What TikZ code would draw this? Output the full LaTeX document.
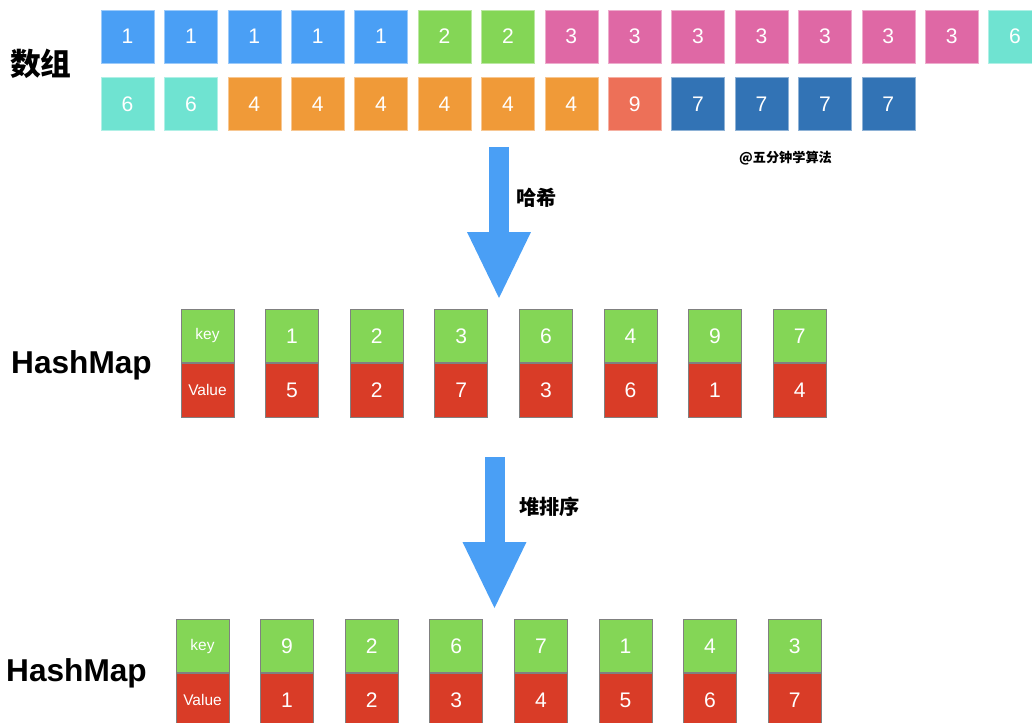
\documentclass[tikz,border=0pt]{standalone}
\usepackage{fontspec}
\setmainfont{Liberation Sans}
\newfontfamily\cjk{Noto Sans CJK SC}
\usetikzlibrary{positioning, arrows.meta}

\definecolor{cblue}{HTML}{4A9FF5}
\definecolor{cgreen}{HTML}{84D656}
\definecolor{cpink}{HTML}{DF68A5}
\definecolor{cteal}{HTML}{6FE3D1}
\definecolor{corange}{HTML}{F09A38}
\definecolor{csalmon}{HTML}{ED7058}
\definecolor{cnavy}{HTML}{3273B5}
\definecolor{kgreen}{HTML}{84D656}
\definecolor{vred}{HTML}{D93C27}

\tikzset{
  elem/.style={minimum width=1.06cm, minimum height=1.06cm, inner sep=0pt,
    fill=#1, draw=#1!55!white, line width=0.3pt, text=white,
    font=\fontsize{12}{12}\selectfont},
  keycell/.style={minimum width=1.06cm, minimum height=1.07cm, inner sep=0pt,
    fill=kgreen, draw=gray, line width=0.4pt, text=white,
    font=\fontsize{12}{12}\selectfont},
  valcell/.style={keycell, fill=vred},
  small/.style={font=\fontsize{8.8}{9}\selectfont},
  bigarrow/.style={draw=cblue, line width=0.4cm,
    -{Triangle[length=1.32cm, width=1.28cm, line width=0pt]}},
  title/.style={font=\bfseries\fontsize{18}{18}\selectfont},
  steplabel/.style={anchor=west, font=\cjk\bfseries\fontsize{11.5}{12}\selectfont}
}

\begin{document}
\begin{tikzpicture}[x=0.02cm, y=-0.02cm]
      \useasboundingbox (0,0) rectangle (1032,723);
      % array
      \node[title, font=\cjk\bfseries\fontsize{17.5}{18}\selectfont] (arr) at (41,64) {数组};
      \node[elem=cblue] (a1) at (127.5,36.5) {1};
      \node[elem=cblue] (a2) at (190.9,36.5) {1};
      \node[elem=cblue] (a3) at (254.3,36.5) {1};
      \node[elem=cblue] (a4) at (317.7,36.5) {1};
      \node[elem=cblue] (a5) at (381.1,36.5) {1};
      \node[elem=cgreen] (a6) at (444.5,36.5) {2};
      \node[elem=cgreen] (a7) at (507.9,36.5) {2};
      \node[elem=cpink] (a8) at (571.3,36.5) {3};
      \node[elem=cpink] (a9) at (634.7,36.5) {3};
      \node[elem=cpink] (a10) at (698.1,36.5) {3};
      \node[elem=cpink] (a11) at (761.5,36.5) {3};
      \node[elem=cpink] (a12) at (824.9,36.5) {3};
      \node[elem=cpink] (a13) at (888.3,36.5) {3};
      \node[elem=cpink] (a14) at (951.7,36.5) {3};
      \node[elem=cteal] (a15) at (1015.1,36.5) {6};
      \node[elem=cteal] (b1) at (127.5,104) {6};
      \node[elem=cteal] (b2) at (190.9,104) {6};
      \node[elem=corange] (b3) at (254.3,104) {4};
      \node[elem=corange] (b4) at (317.7,104) {4};
      \node[elem=corange] (b5) at (381.1,104) {4};
      \node[elem=corange] (b6) at (444.5,104) {4};
      \node[elem=corange] (b7) at (507.9,104) {4};
      \node[elem=corange] (b8) at (571.3,104) {4};
      \node[elem=csalmon] (b9) at (634.7,104) {9};
      \node[elem=cnavy] (b10) at (698.1,104) {7};
      \node[elem=cnavy] (b11) at (761.5,104) {7};
      \node[elem=cnavy] (b12) at (824.9,104) {7};
      \node[elem=cnavy] (b13) at (888.3,104) {7};
      \node[font=\cjk\bfseries\fontsize{7.5}{8}\selectfont] (mark) at (785.5,158) {@五分钟学算法};
      % hash step
      \coordinate (hashtop) at (499,147);
      \coordinate (hashtip) at (499,298);
      \draw[bigarrow] (hashtop) -- (hashtip);
      \node[steplabel] (hashlbl) at (510,198) {哈希};
      % first map
      \node[title] (map1) at (81.5,365) {HashMap};
      \node[keycell, small] (hk0) at (207.5,336) {key};
      \node[keycell] (hk1) at (292.1,336) {1};
      \node[keycell] (hk2) at (376.7,336) {2};
      \node[keycell] (hk3) at (461.3,336) {3};
      \node[keycell] (hk4) at (545.9,336) {6};
      \node[keycell] (hk5) at (630.5,336) {4};
      \node[keycell] (hk6) at (715.1,336) {9};
      \node[keycell] (hk7) at (799.7,336) {7};
      \node[valcell, small, below=0pt of hk0] (hv0) {Value};
      \node[valcell, below=0pt of hk1] (hv1) {5};
      \node[valcell, below=0pt of hk2] (hv2) {2};
      \node[valcell, below=0pt of hk3] (hv3) {7};
      \node[valcell, below=0pt of hk4] (hv4) {3};
      \node[valcell, below=0pt of hk5] (hv5) {6};
      \node[valcell, below=0pt of hk6] (hv6) {1};
      \node[valcell, below=0pt of hk7] (hv7) {4};
      % heap sort step
      \coordinate (sorttop) at (494.5,457);
      \coordinate (sorttip) at (494.5,608);
      \draw[bigarrow] (sorttop) -- (sorttip);
      \node[steplabel] (sortlbl) at (513,507) {堆排序};
      % sorted map
      \node[title] (map2) at (76.5,673) {HashMap};
      \node[keycell, small] (sk0) at (202.5,646) {key};
      \node[keycell] (sk1) at (287.1,646) {9};
      \node[keycell] (sk2) at (371.7,646) {2};
      \node[keycell] (sk3) at (456.3,646) {6};
      \node[keycell] (sk4) at (540.9,646) {7};
      \node[keycell] (sk5) at (625.5,646) {1};
      \node[keycell] (sk6) at (710.1,646) {4};
      \node[keycell] (sk7) at (794.7,646) {3};
      \node[valcell, small, below=0pt of sk0] (sv0) {Value};
      \node[valcell, below=0pt of sk1] (sv1) {1};
      \node[valcell, below=0pt of sk2] (sv2) {2};
      \node[valcell, below=0pt of sk3] (sv3) {3};
      \node[valcell, below=0pt of sk4] (sv4) {4};
      \node[valcell, below=0pt of sk5] (sv5) {5};
      \node[valcell, below=0pt of sk6] (sv6) {6};
      \node[valcell, below=0pt of sk7] (sv7) {7};
\end{tikzpicture}
\end{document}
